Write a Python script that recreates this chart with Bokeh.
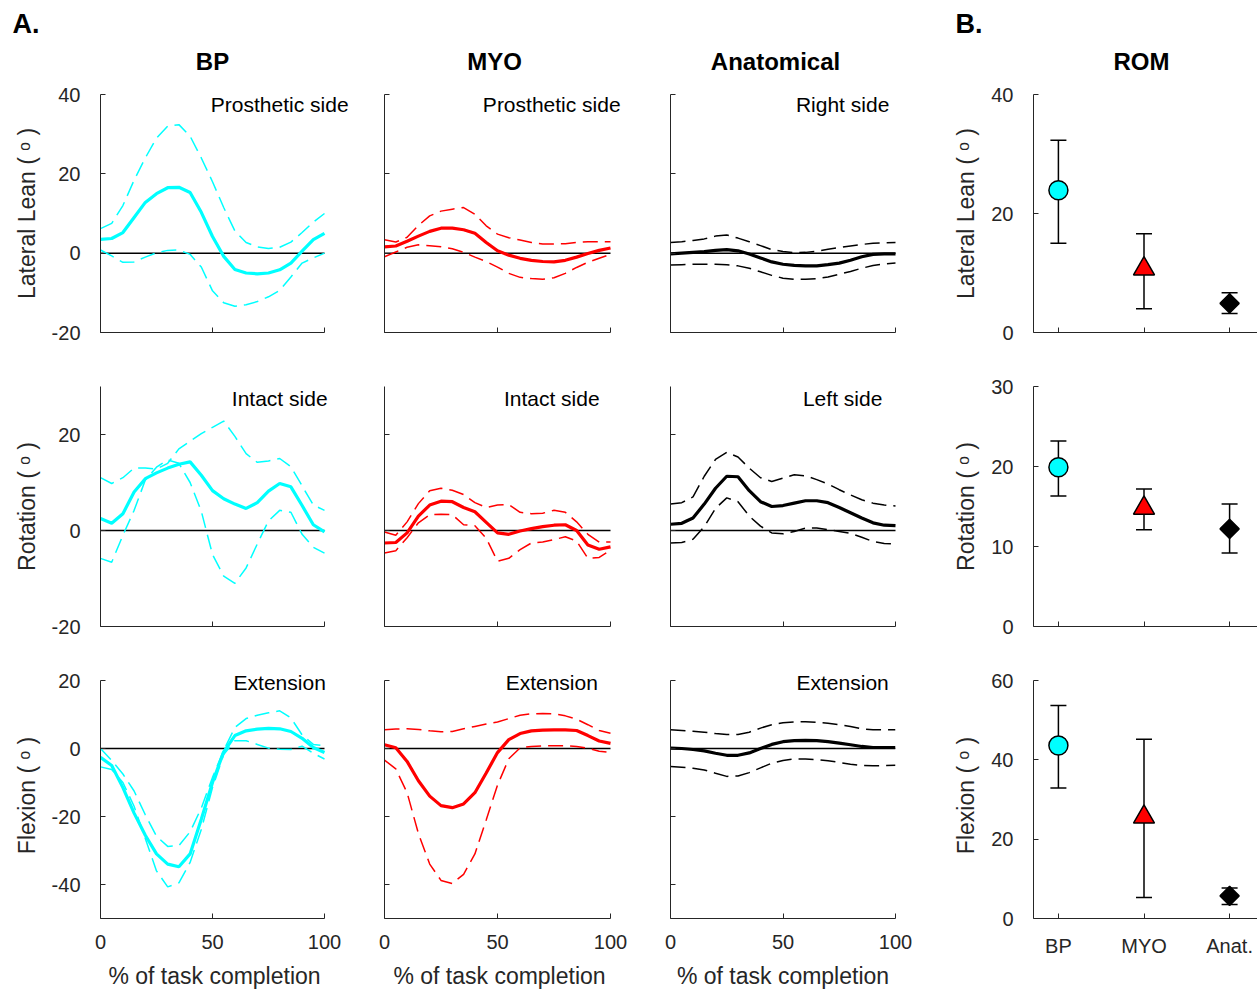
from bokeh.plotting import figure
from bokeh.layouts import column, row
from bokeh.models import (Range1d, FixedTicker, Label, Whisker, TeeHead,
                          ColumnDataSource, CustomJSTickFormatter)
from bokeh.embed import file_html
from bokeh.resources import INLINE

# ---------------- data ----------------
pct = [0, 5, 10, 15, 20, 25, 30, 35, 40, 45, 50, 55, 60, 65, 70, 75, 80, 85, 90, 95, 100]

# Lateral lean
bp_lean_mean = [3.5, 3.7, 5.2, 9.0, 12.8, 15.0, 16.5, 16.6, 15.3, 10.3, 4.2, -0.8, -4.1, -5.0, -5.2, -5.0, -4.2, -2.5, 0.5, 3.4, 5.0]
bp_lean_hi = [6.2, 7.5, 12.0, 18.4, 24.0, 29.0, 32.0, 32.4, 29.5, 24.0, 18.0, 11.5, 5.6, 2.7, 1.6, 1.2, 1.5, 2.8, 5.2, 7.8, 10.0]
bp_lean_lo = [0.8, -0.7, -2.3, -2.2, -1.0, 0.1, 0.7, 0.8, -0.3, -3.5, -9.5, -12.5, -13.4, -13.0, -12.2, -11.0, -9.4, -6.0, -2.5, -1.2, 0.0]

myo_lean_mean = [1.6, 1.8, 3.0, 4.3, 5.5, 6.3, 6.3, 5.9, 5.0, 2.7, 0.6, -0.5, -1.3, -1.8, -2.1, -2.2, -1.8, -1.0, -0.1, 0.7, 1.3]
myo_lean_hi = [3.4, 2.8, 4.0, 7.0, 9.4, 10.6, 11.1, 11.5, 9.8, 6.9, 4.8, 3.9, 3.3, 2.7, 2.3, 2.3, 2.4, 2.7, 2.9, 2.9, 2.9]
myo_lean_lo = [-0.9, 0.3, 1.5, 2.1, 1.9, 1.6, 1.1, 0.2, -1.0, -2.1, -3.5, -5.1, -6.1, -6.4, -6.6, -6.2, -5.1, -3.6, -2.3, -1.3, -0.3]

ana_lean_mean = [-0.2, 0.0, 0.2, 0.4, 0.7, 0.9, 0.6, -0.2, -1.2, -2.2, -2.8, -3.1, -3.2, -3.2, -2.9, -2.5, -1.8, -0.9, -0.3, -0.2, -0.2]
ana_lean_hi = [2.7, 2.9, 3.2, 3.6, 4.3, 4.6, 3.8, 2.9, 1.9, 0.9, 0.4, 0.1, 0.2, 0.5, 1.0, 1.4, 1.8, 2.2, 2.5, 2.6, 2.7]
ana_lean_lo = [-3.0, -2.9, -2.8, -2.8, -2.8, -2.9, -3.2, -3.8, -4.7, -5.6, -6.3, -6.6, -6.6, -6.4, -6.0, -5.3, -4.6, -3.8, -3.1, -2.7, -2.5]

# Rotation
bp_rot_mean = [2.5, 1.5, 3.5, 8.0, 10.8, 12.0, 13.0, 13.8, 14.3, 11.5, 8.3, 6.6, 5.5, 4.6, 5.8, 8.2, 9.8, 9.1, 5.2, 1.2, -0.3]
bp_rot_hi = [11.0, 9.8, 11.0, 13.0, 13.0, 12.8, 14.0, 17.0, 18.6, 20.2, 21.5, 22.8, 19.6, 16.0, 14.2, 14.5, 15.0, 13.3, 9.3, 5.3, 4.2]
bp_rot_lo = [-5.8, -6.6, -1.0, 4.2, 10.5, 13.2, 14.7, 14.0, 10.0, 4.0, -5.0, -9.5, -11.0, -7.8, -2.8, 2.0, 4.2, 3.8, -0.8, -3.5, -4.7]

myo_rot_mean = [-2.6, -2.5, -0.5, 3.0, 5.3, 6.1, 6.0, 4.8, 3.9, 1.7, -0.5, -0.8, -0.1, 0.4, 0.8, 1.1, 1.2, 0.0, -3.0, -3.9, -3.4]
myo_rot_hi = [-0.3, -1.0, 1.8, 5.6, 8.3, 8.8, 8.4, 7.5, 5.8, 4.8, 5.3, 5.4, 3.8, 3.5, 3.6, 4.2, 3.8, 1.8, -0.8, -2.4, -2.4]
myo_rot_lo = [-4.7, -4.2, -1.5, 1.6, 3.3, 3.4, 3.3, 1.2, 1.0, -1.6, -6.4, -5.8, -4.0, -2.6, -2.4, -1.9, -1.3, -2.2, -5.8, -5.6, -4.1]

ana_rot_mean = [1.3, 1.5, 2.6, 5.5, 8.8, 11.3, 11.2, 8.3, 6.0, 5.0, 5.2, 5.7, 6.2, 6.2, 5.8, 4.8, 3.7, 2.6, 1.6, 1.1, 1.0]
ana_rot_hi = [5.5, 5.8, 7.0, 11.3, 14.8, 16.3, 15.3, 13.0, 11.0, 10.2, 10.9, 11.6, 11.4, 10.6, 9.7, 8.5, 7.4, 6.4, 5.7, 5.3, 5.1]
ana_rot_lo = [-2.6, -2.5, -1.8, 0.8, 4.6, 6.8, 6.0, 3.0, 0.9, -0.5, -0.7, -0.2, 0.5, 0.5, 0.2, -0.2, -0.6, -1.4, -2.3, -2.7, -2.8]

# Flexion / extension
bp_flex_mean = [-2.6, -5.0, -11.5, -19.0, -25.5, -31.0, -34.0, -34.8, -31.0, -20.8, -10.0, -1.0, 3.8, 5.2, 5.7, 5.9, 5.8, 5.0, 3.0, 0.3, -1.2]
bp_flex_hi = [0.0, -3.5, -7.5, -12.5, -19.5, -25.8, -28.8, -28.6, -24.5, -17.5, -8.5, -0.5, 6.2, 8.8, 9.8, 10.5, 11.1, 9.0, 4.0, 1.2, 0.8]
bp_flex_lo = [-5.4, -6.2, -10.0, -17.0, -26.5, -36.0, -40.7, -39.5, -33.5, -23.8, -11.5, -1.8, 2.3, 2.3, 1.2, 0.1, -0.2, -0.3, 0.7, -1.4, -3.1]

myo_flex_mean = [1.1, 0.2, -3.8, -9.5, -14.0, -16.8, -17.4, -16.3, -13.0, -7.2, -1.2, 2.6, 4.4, 5.2, 5.4, 5.5, 5.5, 5.3, 3.8, 2.2, 1.5]
myo_flex_hi = [5.5, 5.7, 5.8, 5.6, 5.2, 4.9, 5.0, 5.8, 6.5, 7.2, 7.8, 8.8, 9.8, 10.2, 10.3, 10.2, 9.6, 8.6, 7.0, 5.3, 4.5]
myo_flex_lo = [-3.4, -6.0, -13.0, -25.0, -34.0, -38.8, -39.7, -37.0, -31.0, -21.0, -10.8, -3.0, 0.2, 0.6, 0.8, 0.8, 0.8, 0.6, 0.1, -0.8, -1.2]

ana_flex_mean = [0.1, 0.0, -0.3, -0.7, -1.4, -2.0, -2.0, -1.3, 0.0, 1.2, 2.0, 2.3, 2.4, 2.3, 2.0, 1.6, 1.1, 0.6, 0.3, 0.3, 0.3]
ana_flex_hi = [5.5, 5.3, 5.1, 4.8, 4.4, 4.1, 4.1, 4.8, 6.0, 7.0, 7.6, 7.8, 7.9, 7.7, 7.4, 7.0, 6.5, 5.8, 5.5, 5.5, 5.5]
ana_flex_lo = [-5.3, -5.5, -5.8, -6.3, -7.3, -8.2, -8.1, -7.1, -5.7, -4.3, -3.5, -3.1, -3.1, -3.3, -3.6, -4.1, -4.6, -5.0, -5.1, -5.0, -4.9]

# Range of motion (panel B)
rom_groups = ["BP", "MYO", "Anat."]
rom_pos = [1, 2, 3]
rom_lean_mean = [23.9, 10.7, 4.9]
rom_lean_hi = [32.3, 16.6, 6.7]
rom_lean_lo = [15.0, 4.0, 3.2]
rom_rot_mean = [19.9, 14.8, 12.2]
rom_rot_hi = [23.2, 17.2, 15.3]
rom_rot_lo = [16.3, 12.1, 9.2]
rom_flex_mean = [43.6, 25.6, 5.7]
rom_flex_hi = [53.7, 45.2, 7.7]
rom_flex_lo = [32.9, 5.3, 3.5]

# ---------------- styling / layout ----------------
FONT = "Liberation Sans"
AXC = "#262626"
COLORS = ["#00FFFF", "#FF0000", "#000000"]
MARKERS = ["circle", "triangle", "square"]
MSIZES = [19, 21, 13.5]
MANGLES = [0, 0, 0.7853981634]
DASH = "15 7"

TOTAL_W = 1257
HEADER_H = 80
# width, left border, frame px per x unit (None = ROM panel)
COLS = [(356, 100, 2.24), (284, 28, 2.26), (310, 30, 2.25), (307, 82, None)]
RIGHT_BORDER = [[0, 0, 0, 0], [0, 0, 0, 0], [28, 26, 55, 0]]
# height, top border, bottom border, extra frame px above axis top
ROWS = [(280, 14, 28, 0), (292, 26, 26, 0), (339, 20, 73, 8)]
YRANGES = [(-20, 40), (-20, 30), (-50, 20)]
YTICKS = [[-20, 0, 20, 40], [-20, 0, 20], [-40, -20, 0, 20]]
ROM_YRANGES = [(0, 40), (0, 30), (0, 60)]
ROM_YTICKS = [[0, 20, 40], [0, 10, 20, 30], [0, 20, 40, 60]]
ROM_XRANGE = (0.709, 3.326)
YLABELS = ["Lateral Lean ( ᵒ )", "Rotation ( ᵒ )", "Flexion ( ᵒ )"]

# header texts: (text, x px, y px from top, size, align)
HEADER = [("A.", 12, 23.5, "27px", "left"),
          ("BP", 212, 60.5, "24px", "center"),
          ("MYO", 494, 60.5, "24px", "center"),
          ("Anatomical", 775, 60.5, "24px", "center"),
          ("B.", 955, 23.5, "27px", "left"),
          ("ROM", 1141, 60.5, "24px", "center")]

SIDE_TEXT = [["Prosthetic side", "Prosthetic side", "Right side"],
             ["Intact side", "Intact side", "Left side"],
             ["Extension", "Extension", "Extension"]]
SIDE_X = [80, 74, 76.5]
SIDE_Y = [37.4, 27.6, 19.35]

CURVES = [
    [(bp_lean_mean, bp_lean_hi, bp_lean_lo), (myo_lean_mean, myo_lean_hi, myo_lean_lo), (ana_lean_mean, ana_lean_hi, ana_lean_lo)],
    [(bp_rot_mean, bp_rot_hi, bp_rot_lo), (myo_rot_mean, myo_rot_hi, myo_rot_lo), (ana_rot_mean, ana_rot_hi, ana_rot_lo)],
    [(bp_flex_mean, bp_flex_hi, bp_flex_lo), (myo_flex_mean, myo_flex_hi, myo_flex_lo), (ana_flex_mean, ana_flex_hi, ana_flex_lo)],
]
ROM = [(rom_lean_mean, rom_lean_hi, rom_lean_lo),
       (rom_rot_mean, rom_rot_hi, rom_rot_lo),
       (rom_flex_mean, rom_flex_hi, rom_flex_lo)]

EMPTY = "return ''"
PLAIN = "return tick.toString()"


def make_fig(col, rw, xr, yr):
    w, bl, _ = COLS[col]
    br = RIGHT_BORDER[rw][col]
    h, bt, bb, extra = ROWS[rw]
    frame_h = h - bt - bb
    y0, y1 = yr
    y_end = y1 + extra * (y1 - y0) / (frame_h - extra)
    p = figure(width=w, height=h, x_range=Range1d(*xr), y_range=Range1d(y0, y_end),
               output_backend="svg", toolbar_location=None, title=None,
               min_border_left=bl, min_border_right=br,
               min_border_top=bt, min_border_bottom=bb)
    p.grid.visible = False
    p.outline_line_color = None
    p.background_fill_color = "white"
    p.border_fill_color = "white"
    for ax in (p.xaxis[0], p.yaxis[0]):
        ax.axis_line_color = AXC
        ax.axis_line_width = 1
        ax.major_tick_line_color = AXC
        ax.major_tick_line_width = 1
        ax.major_tick_in = 5
        ax.major_tick_out = 0
        ax.minor_tick_line_color = None
        ax.major_label_text_font = FONT
        ax.major_label_text_font_size = "20px"
        ax.major_label_text_color = AXC
        ax.axis_label_text_font = FONT
        ax.axis_label_text_font_size = "23px"
        ax.axis_label_text_font_style = "normal"
        ax.axis_label_text_color = AXC
        ax.formatter = CustomJSTickFormatter(code=PLAIN)
    p.yaxis[0].bounds = yr
    p.yaxis[0].major_label_standoff = 20
    p.yaxis[0].axis_label_standoff = 9
    p.xaxis[0].major_label_standoff = 16
    p.xaxis[0].axis_label_standoff = 11
    return p


# ---- header strip with panel letters and column titles ----
header = figure(width=TOTAL_W, height=HEADER_H, x_range=Range1d(0, TOTAL_W),
                y_range=Range1d(HEADER_H, 0), output_backend="svg", toolbar_location=None,
                title=None, x_axis_location=None, y_axis_location=None,
                min_border_left=0, min_border_right=0, min_border_top=0, min_border_bottom=0)
header.grid.visible = False
header.outline_line_color = None
header.background_fill_color = "white"
header.border_fill_color = "white"
for text, hx, hy, size, align in HEADER:
    header.add_layout(Label(x=hx, y=hy, text=text, text_align=align, text_baseline="middle",
                            text_font=FONT, text_font_size=size, text_font_style="bold",
                            text_color="black"))

rows = [header]
for r in range(3):
    row_figs = []
    for c in range(3):
        w, bl, scale = COLS[c]
        x_end = (w - bl - RIGHT_BORDER[r][c]) / scale
        p = make_fig(c, r, (0, x_end), YRANGES[r])
        p.xaxis[0].bounds = (pct[0], pct[-1])
        p.xaxis[0].ticker = FixedTicker(ticks=[0, 50, 100])
        p.yaxis[0].ticker = FixedTicker(ticks=YTICKS[r])
        if r < 2:
            p.xaxis[0].formatter = CustomJSTickFormatter(code=EMPTY)
        else:
            p.xaxis[0].axis_label = "% of task completion"
        if c > 0:
            p.yaxis[0].formatter = CustomJSTickFormatter(code=EMPTY)
        else:
            p.yaxis[0].axis_label = YLABELS[r]
        # zero reference line across the task
        p.line([pct[0], pct[-1]], [0, 0], line_color="black", line_width=1.5)
        mean, hi, lo = CURVES[r][c]
        col = COLORS[c]
        p.line(pct, hi, line_color=col, line_width=1.5, line_dash=DASH)
        p.line(pct, lo, line_color=col, line_width=1.5, line_dash=DASH)
        p.line(pct, mean, line_color=col, line_width=3.2)
        p.add_layout(Label(x=SIDE_X[c], y=SIDE_Y[r], text=SIDE_TEXT[r][c], text_align="center",
                           text_baseline="middle", text_font=FONT, text_font_size="21px",
                           text_color="black"))
        row_figs.append(p)

    # ROM panel
    p = make_fig(3, r, ROM_XRANGE, ROM_YRANGES[r])
    p.xaxis[0].ticker = FixedTicker(ticks=rom_pos)
    p.yaxis[0].ticker = FixedTicker(ticks=ROM_YTICKS[r])
    p.yaxis[0].axis_label = YLABELS[r]
    if r < 2:
        p.xaxis[0].formatter = CustomJSTickFormatter(code=EMPTY)
    else:
        p.xaxis[0].formatter = CustomJSTickFormatter(
            args=dict(labels=rom_groups),
            code="const i = Math.round(tick) - 1; return (i >= 0 && i < labels.length) ? labels[i] : '';")
    mean, hi, lo = ROM[r]
    src = ColumnDataSource(dict(x=rom_pos, y=mean, hi=hi, lo=lo))
    wh = Whisker(base="x", upper="hi", lower="lo", source=src, dimension="height",
                 line_color="black", line_width=1.5,
                 upper_head=TeeHead(size=16, line_color="black", line_width=1.5),
                 lower_head=TeeHead(size=16, line_color="black", line_width=1.5))
    p.add_layout(wh)
    for i in range(3):
        p.scatter([rom_pos[i]], [mean[i]], marker=MARKERS[i], size=MSIZES[i],
                  angle=MANGLES[i], fill_color=COLORS[i], line_color="black", line_width=1.5)
    row_figs.append(p)
    rows.append(row(*row_figs, spacing=0))

layout = column(*rows, spacing=0)

open("out.html", "w").write(file_html(layout, INLINE))
